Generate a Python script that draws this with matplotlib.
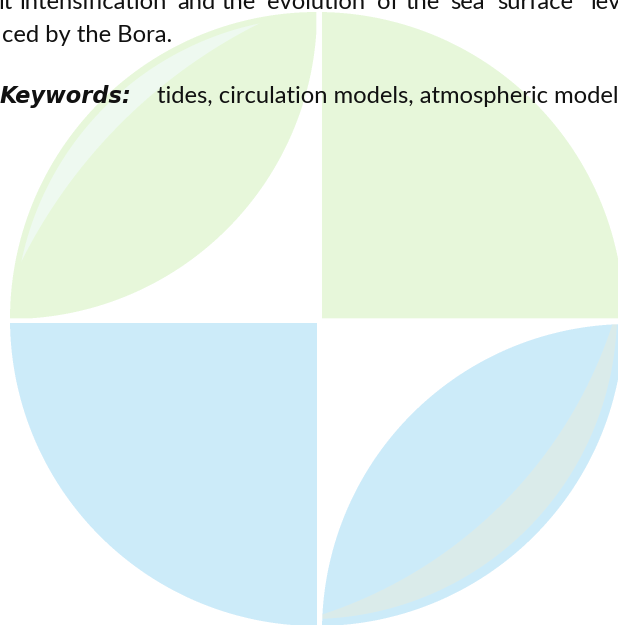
import numpy as np
import matplotlib
matplotlib.use('Agg')
import matplotlib.pyplot as plt
from matplotlib import font_manager as fm
from matplotlib.colors import to_rgb

W, H = 618, 625

# logo geometry, in pixels of the page
center = (317, 319)
radius = 307
tl_leaf_center = (10, 12)
br_leaf_center = (629, 631)

# colours
green = '#e7f8db'
green_light = '#eefaf0'
blue = '#cdebfa'
blue_gray = '#dbebea'
text_color = '#111111'

# text lines (page is cut at the right and top)
line1_words = ['it', 'intensification', 'and', 'the', 'evolution', 'of', 'the', 'sea', 'surface', 'level']
line1_x = [-1, 20, 177, 222, 267, 377, 405, 450, 497, 590]
line2 = 'ced by the Bora.'
kw_label = 'Keywords:'
kw_text = 'tides, circulation models, atmospheric models'

# raster of the watermark, supersampled for smooth edges
ss = 3
xs = (np.arange(W * ss) + 0.5) / ss
ys = (np.arange(H * ss) + 0.5) / ss
X, Y = np.meshgrid(xs, ys)


def inside(c, r):
    return (X - c[0]) ** 2 + (Y - c[1]) ** 2 <= r ** 2


cx, cy = center
M = inside(center, radius)
top_right = M & (X >= 322) & (Y < 318.5)
bottom_left = M & (X < 317) & (Y >= 323)
top_left = M & inside(tl_leaf_center, radius) & (X < 316.5) & (Y < 318.5)
bottom_right = M & inside(br_leaf_center, radius) & (X >= 322) & (Y >= 323)
stripe = top_left & inside((cx + 5, cy + 5), radius) & ~inside((cx + 181, cy + 181), radius + 226)
crescent = bottom_right & inside((cx - 7, cy - 7), radius) & ~inside((cx - 136, cy - 136), radius + 147)

img = np.ones((H * ss, W * ss, 3))
for mask, col in [(top_right, green), (bottom_left, blue), (top_left, green),
                  (stripe, green_light), (bottom_right, blue), (crescent, blue_gray)]:
    img[mask] = to_rgb(col)
img = img.reshape(H, ss, W, ss, 3).mean(axis=(1, 3))

fig = plt.figure(figsize=(W / 100, H / 100), dpi=100)
ax = fig.add_axes([0, 0, 1, 1])
ax.imshow(img, extent=(0, W, H, 0), interpolation='nearest')
ax.set_xlim(0, W)
ax.set_ylim(H, 0)
ax.axis('off')

# fonts: a narrow sans for the body text
available = {f.name for f in fm.fontManager.ttflist}
body_family = next((n for n in ['Liberation Sans Narrow', 'Lato', 'DejaVu Sans'] if n in available))
renderer = fig.canvas.get_renderer()


def fit_size(text, target_px, **kw):
    t = ax.text(0, 0, text, fontsize=20, **kw)
    w = t.get_window_extent(renderer).width
    t.remove()
    return 20 * target_px / w


body_size = fit_size(line2, 170, family=body_family)
kw_size = fit_size(kw_label, 132, family='DejaVu Sans', weight='bold', style='italic')

for word, x in zip(line1_words, line1_x):
    ax.text(x, 9, word, family=body_family, fontsize=body_size, color=text_color, va='baseline')
ax.text(2, 42.5, line2, family=body_family, fontsize=body_size, color=text_color, va='baseline')
ax.text(0, 103, kw_label, family='DejaVu Sans', weight='bold', style='italic',
        fontsize=kw_size, color=text_color, va='baseline')
ax.text(157, 103, kw_text, family=body_family, fontsize=body_size, color=text_color, va='baseline')

fig.savefig('out.png', dpi=100)
